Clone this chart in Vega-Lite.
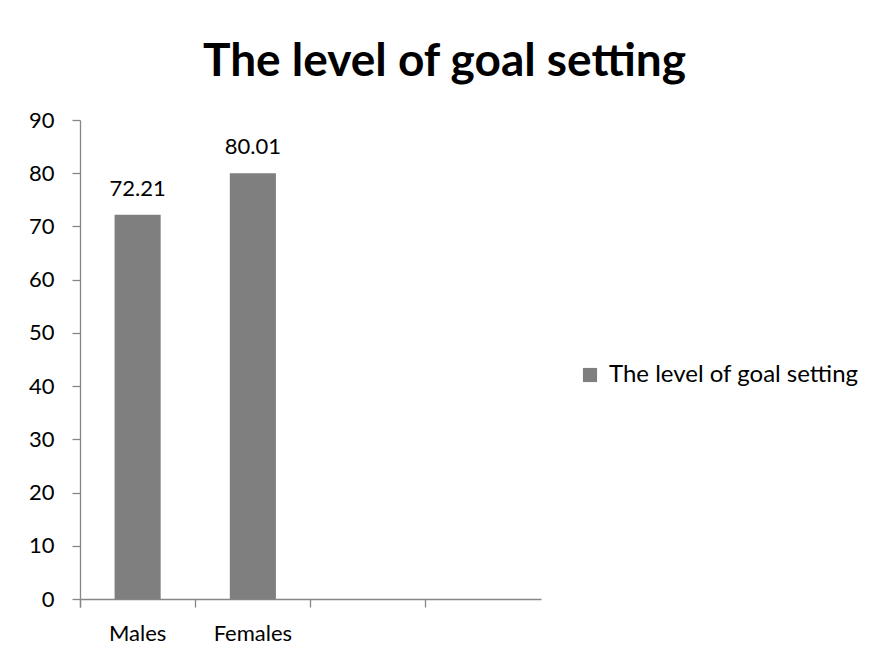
{
  "$schema": "https://vega.github.io/schema/vega-lite/v6.json",
  "autosize": "none",
  "width": 461,
  "height": 479,
  "padding": {"left": 80, "top": 120, "right": 332, "bottom": 56},
  "background": "white",
  "data": {"values": [
    {"group": "Males", "value": 72.21, "series": "The level of goal setting"},
    {"group": "Females", "value": 80.01, "series": "The level of goal setting"}
  ]},
  "title": {
    "text": "The level of goal setting",
    "font": "Lato",
    "fontSize": 46,
    "fontWeight": "bold",
    "color": "black",
    "anchor": "middle",
    "dx": 134,
    "offset": -13,
    "baseline": "alphabetic"
  },
  "config": {
    "view": {"stroke": null},
    "font": "Lato",
    "axis": {"labelFont": "Lato", "labelFontSize": 22, "labelColor": "black", "domainColor": "#868686", "tickColor": "#868686", "grid": false, "domainWidth": 1.3, "tickWidth": 1.3}
  },
  "encoding": {
    "x": {
      "field": "group", "type": "nominal",
      "scale": {"domain": ["Males", "Females", "c3", "c4"], "paddingInner": 0, "paddingOuter": 0},
      "axis": {"title": null, "labelAngle": 0, "bandPosition": 0, "tickExtra": true, "tickSize": 8, "labelPadding": 16,
               "labelExpr": "datum.label == 'Males' || datum.label == 'Females' ? datum.label : ''"}
    },
    "y": {
      "field": "value", "type": "quantitative",
      "scale": {"domain": [0, 90]},
      "axis": {"title": null, "values": [0,10,20,30,40,50,60,70,80,90], "tickSize": 8, "labelPadding": 18}
    }
  },
  "layer": [
    {
      "mark": {"type": "bar", "color": "#7f7f7f", "width": {"band": 0.4}},
      "encoding": {
        "color": {"field": "series", "type": "nominal", "scale": {"range": ["#7f7f7f"]},
          "legend": {"title": null, "orient": "none", "legendX": 498, "legendY": 243, "labelFont": "Lato", "labelFontSize": 24, "labelLimit": 400, "labelColor": "black", "symbolType": "square", "symbolSize": 200, "symbolStrokeWidth": 0, "labelOffset": 7}}
      }
    },
    {
      "mark": {"type": "text", "font": "Lato", "fontSize": 22, "color": "black", "dy": -14, "baseline": "bottom"},
      "encoding": {"text": {"field": "value", "type": "quantitative", "format": ".2f"}}
    }
  ]
}
